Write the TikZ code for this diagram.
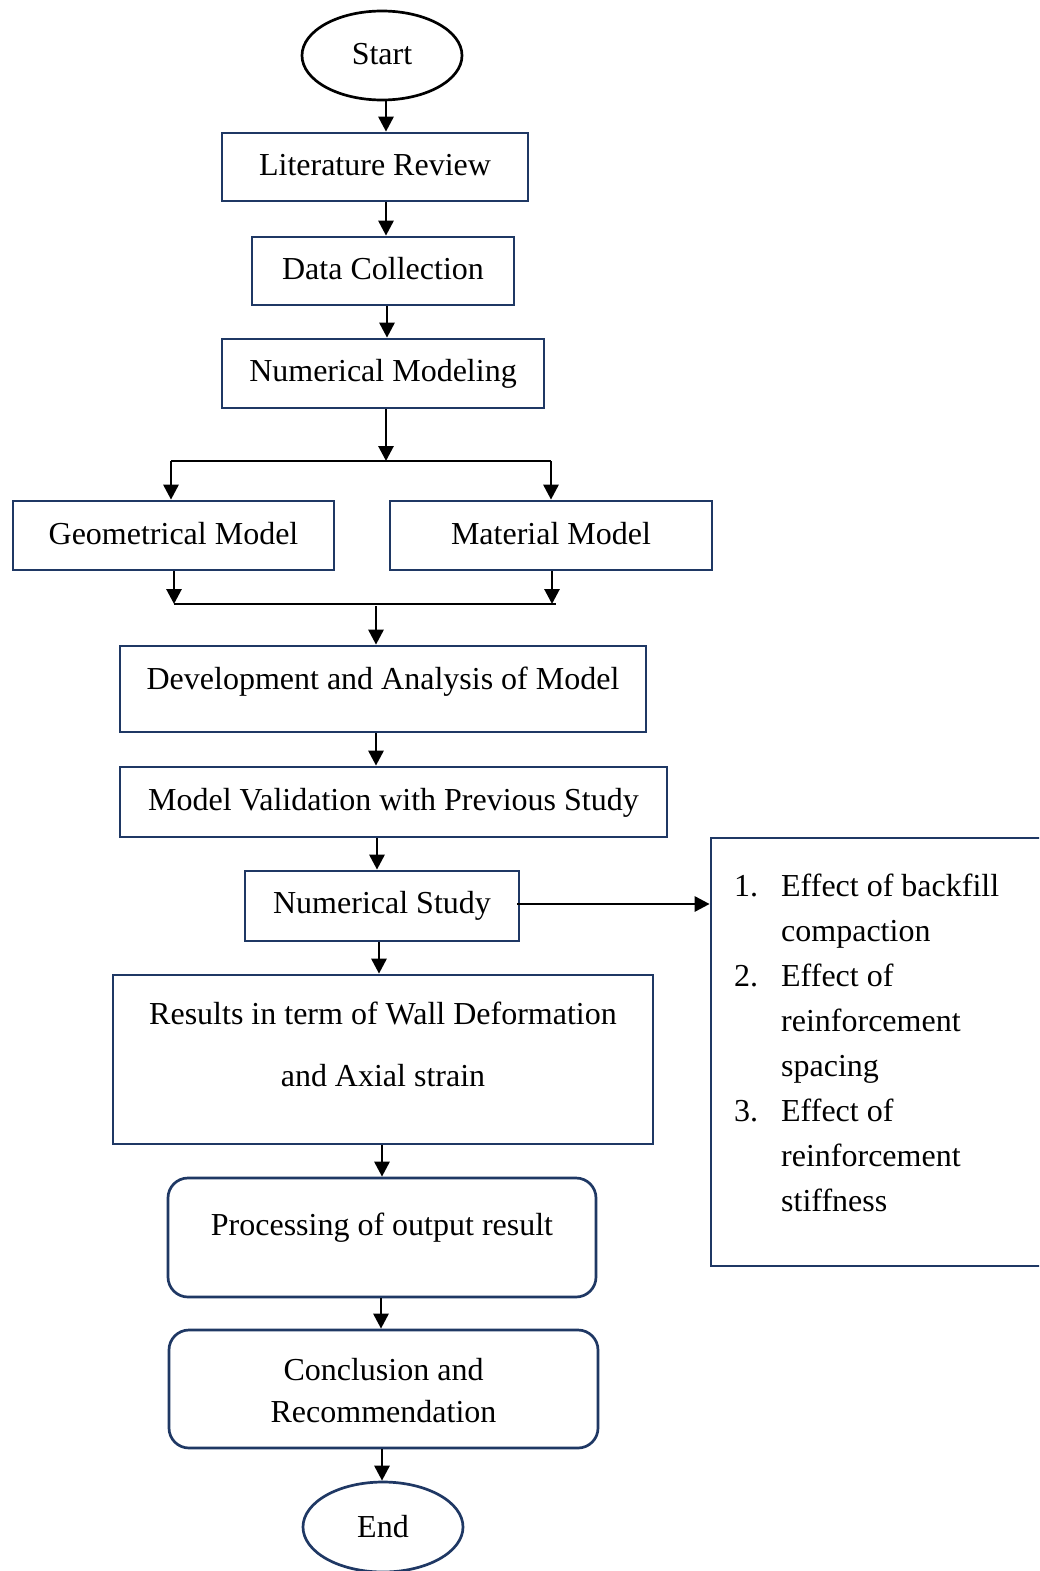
\documentclass[tikz,border=0pt]{standalone}
\usepackage{fontspec}
\setmainfont{Liberation Serif}
\usetikzlibrary{arrows.meta,shapes.geometric}
\definecolor{navy}{RGB}{31,56,100}
\begin{document}
\begin{tikzpicture}[x=1pt,y=-1pt,
  txt/.style={font=\fontsize{32}{37}\selectfont},
  box/.style={txt,draw=navy,line width=2.7pt,rectangle,inner sep=0pt,text height=22pt,text depth=6pt},
  rbox/.style={box,rounded corners=20pt},
  oval/.style={txt,ellipse,line width=2.7pt,inner sep=0pt,text height=22pt,text depth=2pt},
  arr/.style={line width=2.9pt,-{Triangle[length=15pt,width=15pt]}},
  ln/.style={line width=2.9pt}]
\useasboundingbox (0,0) rectangle (1039,1571);
\clip (0,0) rectangle (1039,1571);
\fill[white] (0,0) rectangle (1039,1571);

\node[oval,draw=black,minimum width=160pt,minimum height=89pt,text depth=3pt] (start) at (382,55.5) {Start};
\node[box,minimum width=306pt,minimum height=68pt] (lit) at (375,167) {Literature Review};
\node[box,minimum width=262pt,minimum height=68pt] (data) at (383,271) {Data Collection};
\node[box,minimum width=322pt,minimum height=69pt] (nm) at (383,373.5) {Numerical Modeling};
\node[box,minimum width=321pt,minimum height=69pt,text depth=4pt] (geo) at (173.5,535.5) {Geometrical Model};
\node[box,minimum width=322pt,minimum height=69pt,text depth=4pt] (mat) at (551,535.5) {Material Model};
\node[box,minimum width=526pt,minimum height=86pt,text depth=22pt] (dev) at (383,689) {Development and Analysis of Model};
\node[box,minimum width=547pt,minimum height=70pt] (val) at (393.5,802) {Model Validation with Previous Study};
\node[box,minimum width=274pt,minimum height=70pt,text depth=8pt] (ns) at (382,906) {Numerical Study};
\node[box,minimum width=540pt,minimum height=169pt,text height=64pt,text depth=10pt,font=\fontsize{32}{62}\selectfont] (res) at (383,1059.5)
  {\begin{tabular}[b]{@{}c@{}}Results in term of Wall Deformation\\and Axial strain\end{tabular}};
\node[rbox,minimum width=428pt,minimum height=119pt,text depth=27pt] (proc) at (382,1237.5) {Processing of output result};
\node[rbox,minimum width=429pt,minimum height=118pt,text height=76pt,text depth=10pt,font=\fontsize{32}{42}\selectfont] (conc) at (383.5,1389)
  {\begin{tabular}[b]{@{}c@{}}Conclusion and\\Recommendation\end{tabular}};
\node[oval,draw=navy,minimum width=160pt,minimum height=90pt] (end) at (383,1527) {End};

\node[draw=navy,line width=2.7pt,rectangle,inner sep=0pt,minimum width=349pt,minimum height=428pt] (lb) at (885.5,1052) {};
\node[txt,font=\fontsize{32}{45}\selectfont,anchor=base west,inner sep=0pt] (lt) at (734,896)
  {\begin{tabular}[t]{@{}l@{}l@{}}
  \makebox[47pt][l]{1.} & Effect of backfill\\
   & compaction\\
  2. & Effect of\\
   & reinforcement\\
   & spacing\\
  3. & Effect of\\
   & reinforcement\\
   & stiffness
  \end{tabular}};

% junction coordinates
\coordinate (j1) at (386,461);
\coordinate (j1l) at (171,461);
\coordinate (j1r) at (551,461);
\coordinate (j2l) at (174,604);
\coordinate (j2r) at (556,604);
\coordinate (j2) at (376,606);

\draw[arr] ([xshift=4pt]start.south) -- ([xshift=4pt]start.south |- lit.north);
\draw[arr] ([xshift=11pt]lit.south) -- ([xshift=11pt]lit.south |- data.north);
\draw[arr] ([xshift=4pt]data.south) -- ([xshift=4pt]data.south |- nm.north);
\draw[arr] ([xshift=3pt]nm.south) -- (j1);
\draw[ln] (j1l) -- (j1r);
\draw[arr] (j1l) -- (j1l |- geo.north);
\draw[arr] (j1r) -- (j1r |- mat.north);
\draw[arr] (geo.south -| j2l) -- (j2l);
\draw[arr] ([xshift=1pt]mat.south) -- ([xshift=1pt]mat.south |- j2r);
\draw[ln] (j2l) -- (j2r);
\draw[arr] (j2) -- (j2 |- dev.north);
\draw[arr] ([xshift=-7pt]dev.south) -- ([xshift=-7pt]dev.south |- val.north);
\draw[arr] ([xshift=-16.5pt]val.south) -- ([xshift=-16.5pt]val.south |- ns.north);
\draw[arr] ([xshift=-3pt]ns.south) -- ([xshift=-3pt]ns.south |- res.north);
\draw[arr] ([xshift=-1pt]res.south) -- ([xshift=-1pt]res.south |- proc.north);
\draw[arr] ([xshift=-1pt]proc.south) -- ([xshift=-1pt]proc.south |- conc.north);
\draw[arr] ([xshift=-1.5pt]conc.south) -- ([xshift=-1.5pt]conc.south |- end.north);
\draw[arr] ([xshift=-3pt,yshift=2pt]ns.east) -- ([yshift=2pt]ns.east -| lb.west);
\end{tikzpicture}
\end{document}
